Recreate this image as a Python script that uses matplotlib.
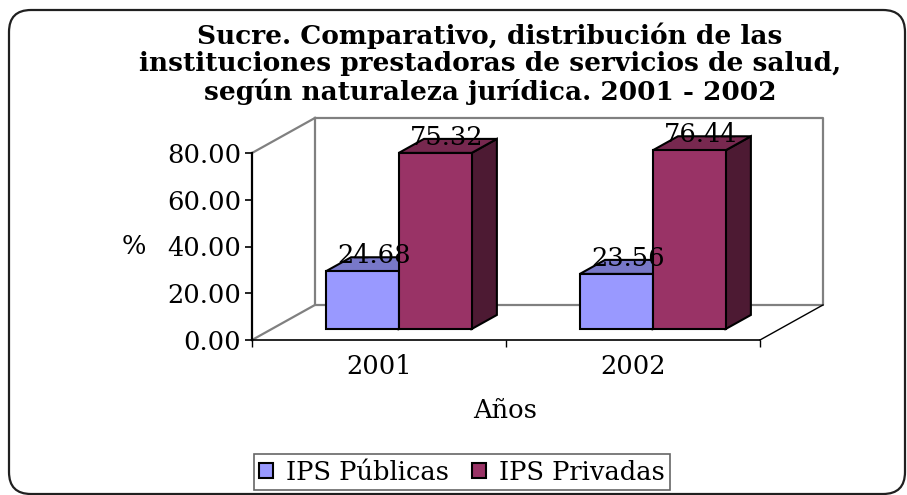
import matplotlib
matplotlib.use('Agg')
import matplotlib.pyplot as plt
from matplotlib.patches import Polygon, Patch, FancyBboxPatch
from matplotlib.transforms import IdentityTransform
import numpy as np

#=================================================================================#

years = ['2001', '2002']
series = ['IPS Públicas', 'IPS Privadas']
publicas = [24.68, 23.56]
privadas = [75.32, 76.44]
yticks = [0, 20, 40, 60, 80]

titulo = ('Sucre. Comparativo, distribución de las\n'
          'instituciones prestadoras de servicios de salud,\n'
          'según naturaleza jurídica. 2001 - 2002')

#=================================================================================#

W, H = 907, 495
FS = 18.5
plt.rcParams['font.family'] = ['DejaVu Serif']

fig = plt.figure(figsize=(W / 100, H / 100), dpi=100)
fig.patch.set_facecolor('white')

# front plane of the 3d box, in pixels
x0p, x1p, y0p, y1p = 252, 760, 340, 153
ax = fig.add_axes([x0p / W, (H - y0p) / H, (x1p - x0p) / W, (y0p - y1p) / H])
ax.set_xlim(0, 2)
ax.set_ylim(0, 80)
ax.patch.set_alpha(0)

# depth of the box in data units
DX, DY = 0.248, 15.0
wall = '#808080'

def ln(xs, ys, c=wall, lw=1.6):
    ax.plot(xs, ys, color=c, lw=lw, clip_on=False, zorder=1, solid_capstyle='projecting')

ln([DX, 2 + DX, 2 + DX, DX, DX], [80 + DY, 80 + DY, DY, DY, 80 + DY])
ln([0, DX], [80, 80 + DY])
ln([0, DX], [0, DY])
ln([2, 2 + DX], [0, DY], c='black', lw=1.0)

#=================================================================================#

face = ['#9999FF', '#993366']
top = ['#7878C8', '#77284F']
side = ['#5C5C99', '#4D1A33']
bw = 0.287
f0, f1 = 0.314, 0.714

for i in range(len(years)):
    for s, vals in enumerate([publicas, privadas]):
        v = vals[i]
        a = i + 0.213 + s * bw
        b = a + bw
        ox0, oy0 = f0 * DX, f0 * DY
        ox1, oy1 = f1 * DX, f1 * DY
        kw = dict(edgecolor='black', lw=1.5, clip_on=False, zorder=3 + i * 2 + s, joinstyle='miter')
        ax.add_patch(Polygon([[b + ox0, oy0], [b + ox1, oy1], [b + ox1, v + oy1], [b + ox0, v + oy0]],
                             facecolor=side[s], **kw))
        ax.add_patch(Polygon([[a + ox0, v + oy0], [b + ox0, v + oy0], [b + ox1, v + oy1], [a + ox1, v + oy1]],
                             facecolor=top[s], **kw))
        ax.add_patch(Polygon([[a + ox0, oy0], [b + ox0, oy0], [b + ox0, v + oy0], [a + ox0, v + oy0]],
                             facecolor=face[s], **kw))
        ax.text((a + b) / 2 + 0.5 * DX, v + 11.5, '%.2f' % v, ha='center', va='center',
                fontsize=FS, zorder=20, clip_on=False)

#=================================================================================#

for sp in ['top', 'right']:
    ax.spines[sp].set_visible(False)
ax.spines['left'].set_linewidth(1.6)
ax.spines['bottom'].set_linewidth(1.2)
ax.spines['left'].set_zorder(2)

ax.set_yticks(yticks)
ax.set_yticklabels(['%.2f' % t for t in yticks], fontsize=FS)
ax.tick_params(axis='y', direction='out', length=5, width=1.2, pad=3)
ax.set_xticks([0, 1, 2])
ax.set_xticklabels([])
ax.tick_params(axis='x', which='major', direction='out', length=5, width=1.0)
ax.set_xticks([0.5, 1.5], minor=True)
ax.set_xticklabels(years, minor=True, fontsize=FS)
ax.tick_params(axis='x', which='minor', length=0, pad=10)

fig.text(134 / W, 1 - 247 / H, '%', ha='center', va='center', fontsize=FS)
fig.text(505 / W, 1 - 411 / H, 'Años', ha='center', va='center', fontsize=FS)
fig.text(490 / W, 1 - 64 / H, titulo, ha='center', va='center', fontsize=19,
         fontweight='bold', linespacing=1.1)

handles = [Patch(facecolor=face[k], edgecolor='black', lw=1.5) for k in range(2)]
leg = fig.legend(handles, series, loc='center', bbox_to_anchor=(462 / W, 1 - 472 / H), ncol=2,
                 fontsize=FS, frameon=True, fancybox=False, edgecolor='#404040',
                 handlelength=0.55, handleheight=0.55, handletextpad=0.5, columnspacing=0.9,
                 borderpad=0.2, borderaxespad=0)
leg.get_frame().set_linewidth(1.2)

fig.patches.append(FancyBboxPatch((9, 1), 896, 484, boxstyle='round,pad=0,rounding_size=22',
                                  transform=IdentityTransform(), facecolor='none',
                                  edgecolor='#202020', lw=1.6, figure=fig))

fig.savefig('out.png', dpi=100)
